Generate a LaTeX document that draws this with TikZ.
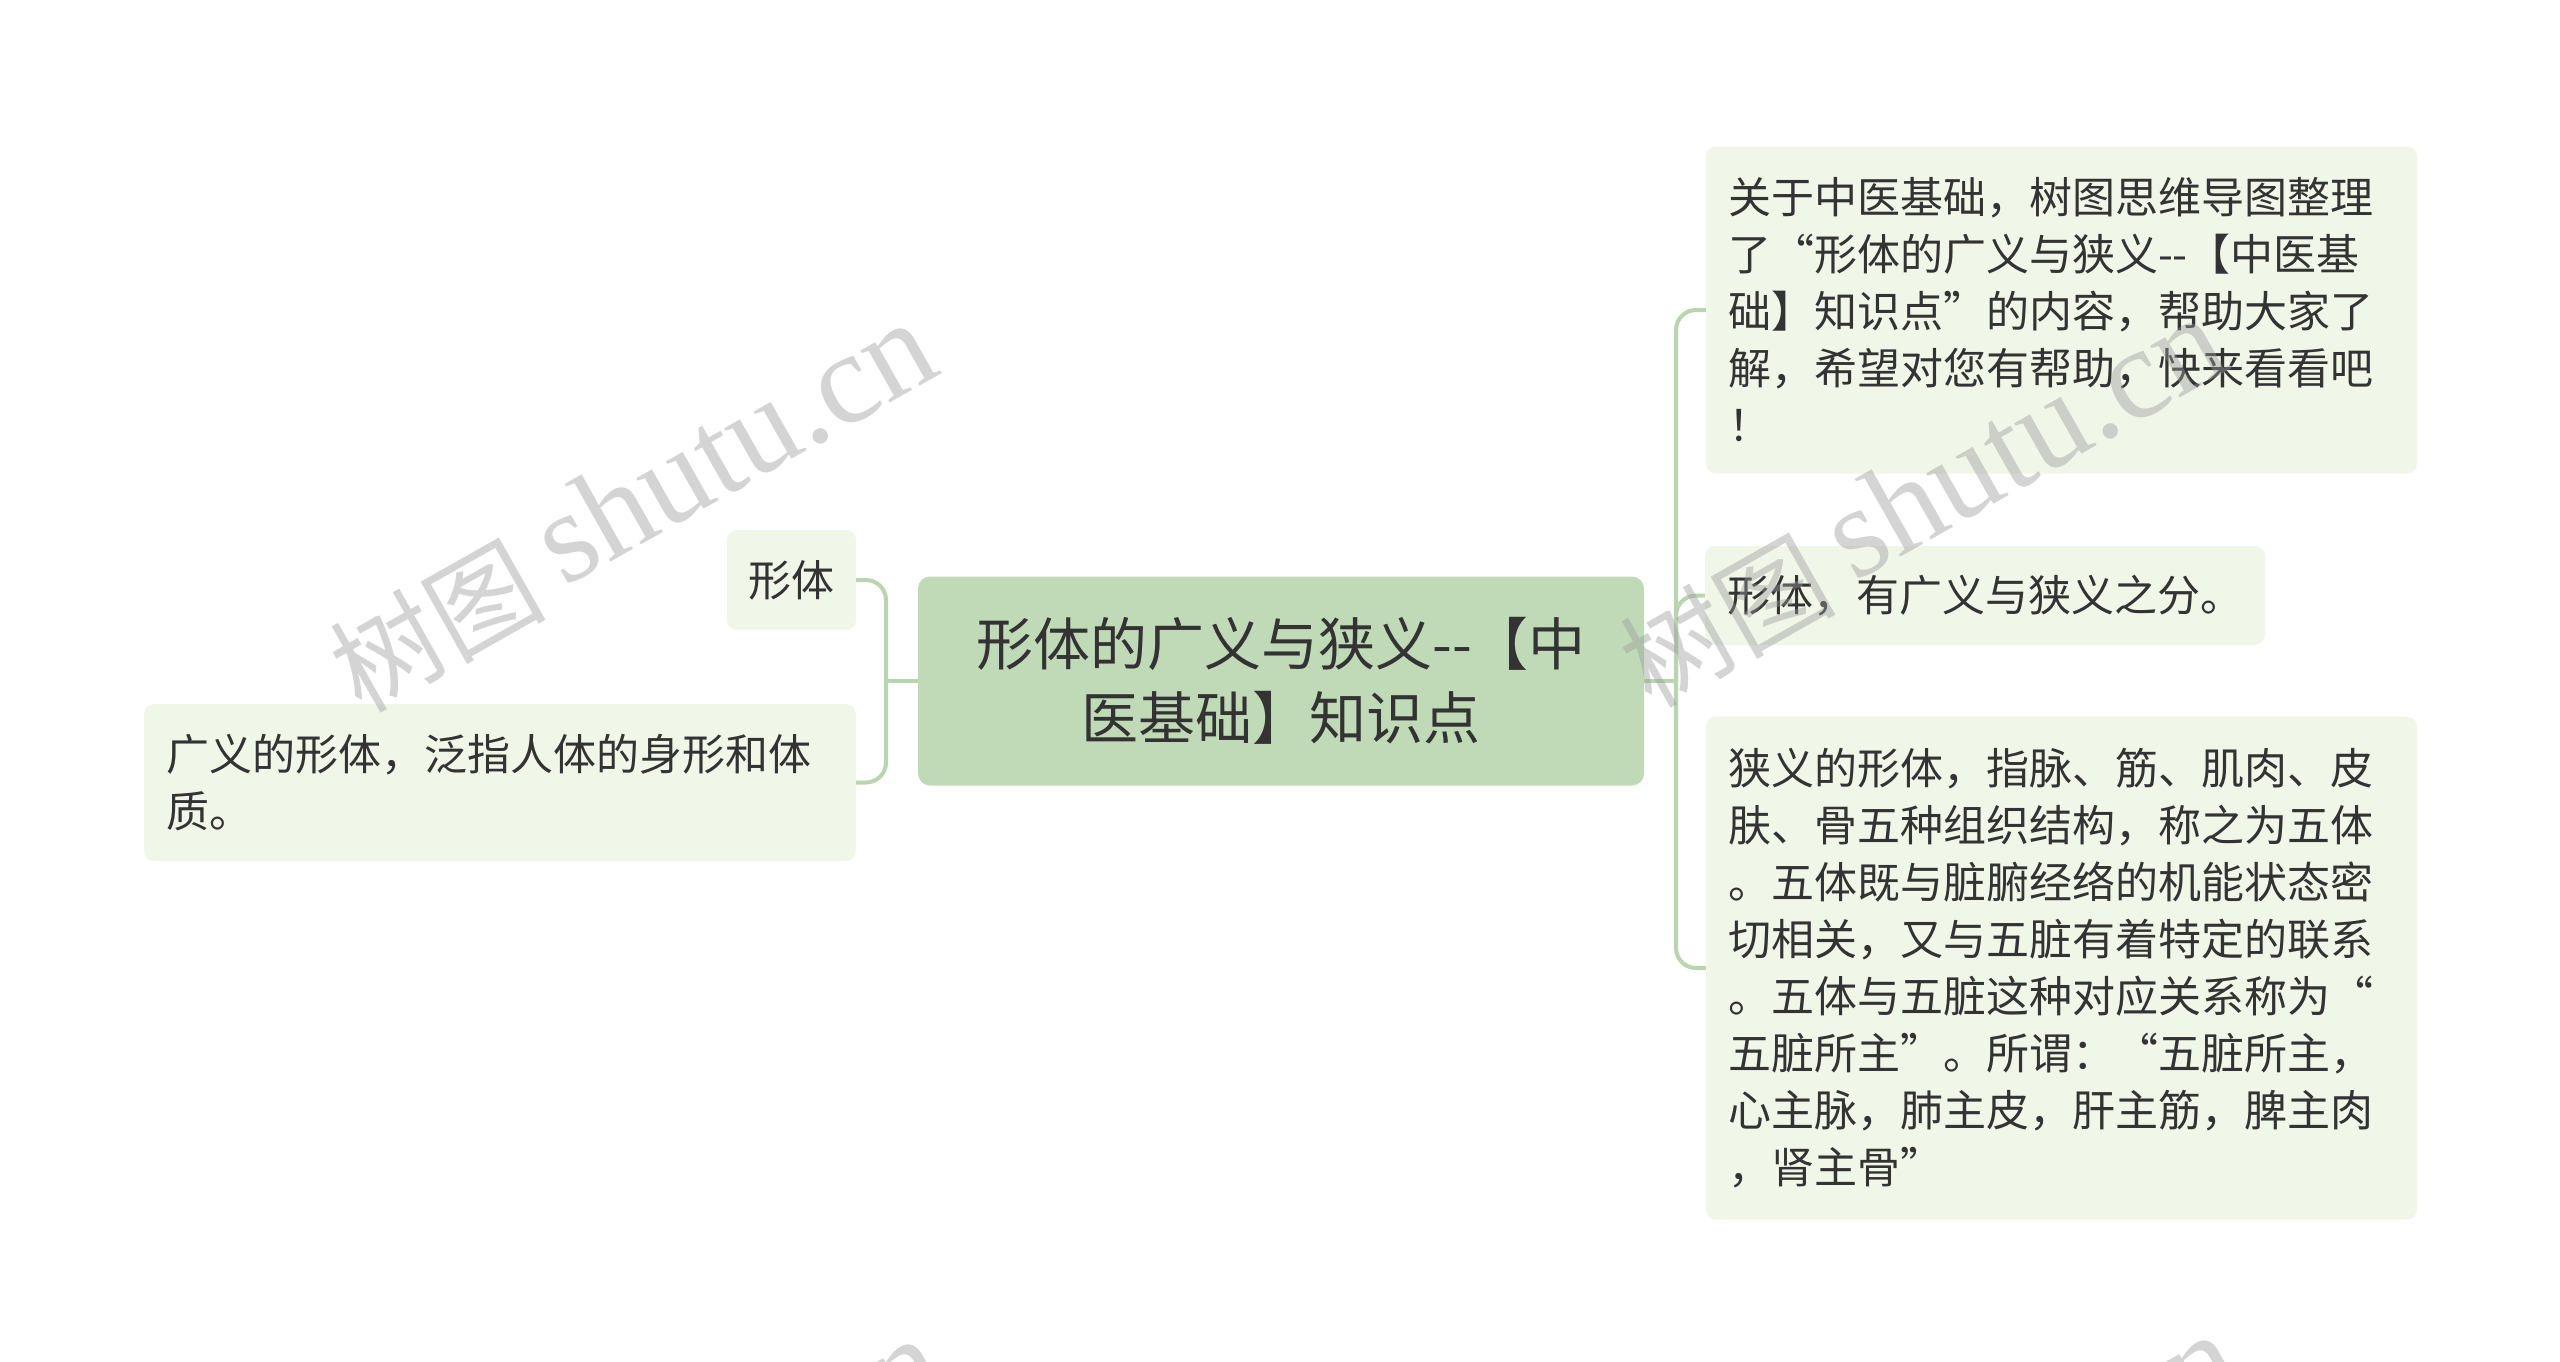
\documentclass[tikz,border=0pt]{standalone}
\usepackage{fontspec}
\setmainfont{Noto Sans CJK SC}
\newfontfamily\wmserif{Liberation Serif}
\newfontfamily\wmcjk{Noto Sans CJK SC}
\definecolor{rootfill}{HTML}{C0DAB8}
\definecolor{childfill}{HTML}{F0F7E8}
\definecolor{connc}{HTML}{B8D5B0}
\definecolor{txt}{HTML}{333333}
\definecolor{wmc}{HTML}{9A9A9A}
\newcommand{\dd}{-\kern0pt-}
% watermark: name, x, y of the start of "shutu.cn"
\newcommand{\wmark}[3]{%
  \node[wmlat, anchor=base west] (#1l) at (#2,#3) {shutu.cn};
  \node[wmhan, anchor=base east] (#1h) at ({#2-14},{#3+20}) {树图};}
\begin{document}
\begin{tikzpicture}[x=1pt,y=-1pt,
  box/.style={fill=childfill, rounded corners=10pt, inner xsep=22pt, inner ysep=0pt,
    align=left, text=txt, font=\fontsize{43}{57}\selectfont, anchor=center},
  rootbox/.style={fill=rootfill, rounded corners=12pt, inner sep=0pt, align=center,
    text=txt, font=\fontsize{57}{74}\selectfont, anchor=center},
  conn/.style={draw=connc, line width=4pt, rounded corners=20pt},
  wmbase/.style={text=wmc, opacity=0.42, rotate=29.5, inner sep=0pt},
  wmlat/.style={wmbase, font=\wmserif\fontsize{130}{130}\selectfont},
  wmhan/.style={wmbase, font=\wmcjk\fontsize{108}{108}\selectfont}]
\fill[white] (0,0) rectangle (2560,1361);
\useasboundingbox (0,0) rectangle (2560,1361);

% spines
\coordinate (sl) at (886,681);
\coordinate (sr) at (1676,681);

\node[rootbox, minimum width=726pt, minimum height=209pt] (root) at (1281,681)
  {形体的广义与狭义\dd【中\\医基础】知识点};

\node[box, align=center, inner xsep=0pt, minimum width=129pt, minimum height=100pt] (xt) at (791.5,580) {形体};

\node[box, text width=668pt, minimum height=157pt] (gy) at (500,782.5)
  {广义的形体，泛指人体的身形和体\\质。};

\node[box, text width=667pt, minimum height=327pt] (r1) at (2061.5,310)
  {关于中医基础，树图思维导图整理\\了“形体的广义与狭义\dd【中医基\\础】知识点”的内容，帮助大家了\\解，希望对您有帮助，快来看看吧\\！};

\node[box, text width=516pt, minimum height=99pt] (r2) at (1985,595.5)
  {形体，有广义与狭义之分。};

\node[box, text width=667pt, minimum height=503pt] (r3) at (2061.5,968)
  {狭义的形体，指脉、筋、肌肉、皮\\肤、骨五种组织结构，称之为五体\\。五体既与脏腑经络的机能状态密\\切相关，又与五脏有着特定的联系\\。五体与五脏这种对应关系称为“\\五脏所主”。所谓：“五脏所主，\\心主脉，肺主皮，肝主筋，脾主肉\\，肾主骨”};

% connectors
\draw[conn] (root.west) -- (sl);
\draw[conn] (sl) |- (xt.east);
\draw[conn] (sl) |- (gy.east);
\draw[conn] (root.east) -- (sr);
\draw[conn] (sr) |- (r1.west);
\draw[conn] (sr) |- (r2.west);
\draw[conn] (sr) |- (r3.west);

% watermarks
\begin{scope}
\clip (0,0) rectangle (2560,1361);
\wmark{wma}{564}{588}
\wmark{wmb}{1854}{583}
\wmark{wmc}{572}{1604}
\wmark{wmd}{1868}{1600}
\end{scope}
\end{tikzpicture}
\end{document}
